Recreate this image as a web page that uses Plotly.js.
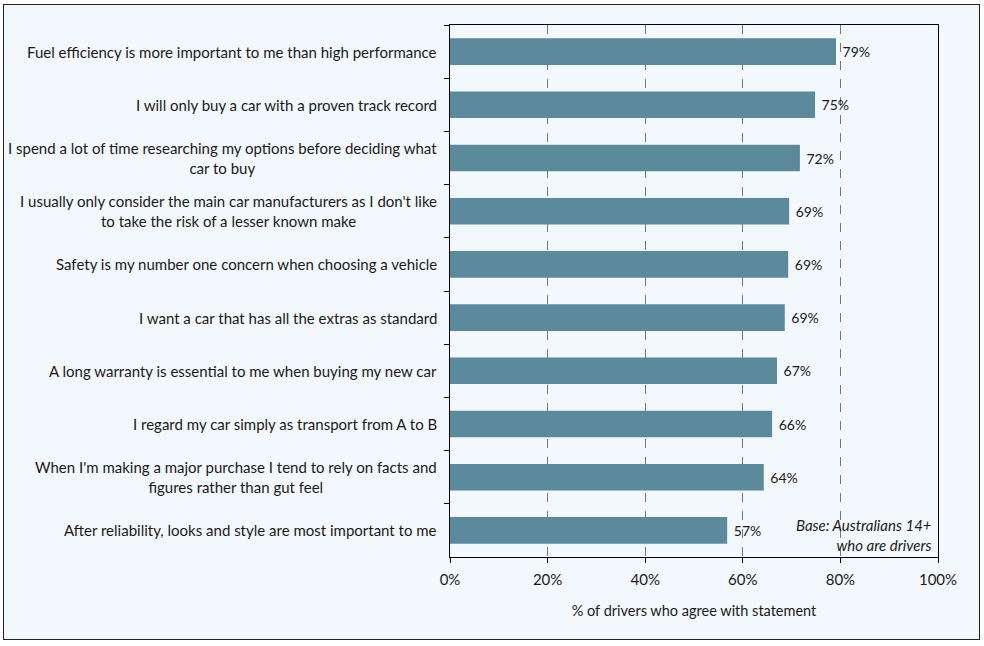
<!DOCTYPE html>
<html>
<head>
<meta charset="utf-8">
<script src="https://cdn.plot.ly/plotly-3.0.1.min.js"></script>
<style>
  body { margin: 0; background: #ffffff; }
  #frame { position: absolute; left: 3px; top: 4px; width: 975px; height: 634px; border: 1px solid #222; background: #f3f8fc; }
  #chart { width: 975px; height: 634px; }
</style>
</head>
<body>
<div id="frame"><div id="chart"></div></div>
<script>
const statements = [
  'Fuel efficiency is more important to me than high performance',
  'I will only buy a car with a proven track record',
  'I spend a lot of time researching my options before deciding what<br>car to buy',
  'I usually only consider the main car manufacturers as I don\'t like<br>to take the risk of a lesser known make',
  'Safety is my number one concern when choosing a vehicle',
  'I want a car that has all the extras as standard',
  'A long warranty is essential to me when buying my new car',
  'I regard my car simply as transport from A to B',
  'When I\'m making a major purchase I tend to rely on facts and<br>figures rather than gut feel',
  'After reliability, looks and style are most important to me'
];
const agree = [79.1, 74.8, 71.7, 69.5, 69.3, 68.6, 67.0, 66.0, 64.3, 56.8];
const agreeLabels = ['79%', '75%', '72%', '69%', '69%', '69%', '67%', '66%', '64%', '57%'];
const tickVals = [0, 20, 40, 60, 80, 100];
const tickText = ['0%', '20%', '40%', '60%', '80%', '100%'];

const font = 'Lato, "Open Sans", sans-serif';
const ink = '#1a1a1a';

const trace = {
  type: 'bar',
  orientation: 'h',
  x: agree,
  y: statements,
  text: agreeLabels,
  texttemplate: '\u00a0%{text}',
  textposition: 'outside',
  cliponaxis: false,
  textfont: {family: font, size: 14, color: ink},
  marker: {color: '#5b8a9c'},
  hoverinfo: 'x+y'
};

// category labels as annotations so that wrapped lines are centred
const labelNotes = statements.map(s => ({
  xref: 'paper', yref: 'y', x: 0, y: s,
  xanchor: 'right', yanchor: 'middle', xshift: -11,
  text: s, showarrow: false, align: 'center',
  font: {family: font, size: 15, color: ink}
}));

labelNotes.push({
  xref: 'paper', yref: 'paper', x: 1, y: 0,
  xanchor: 'right', yanchor: 'bottom', xshift: -4, yshift: 1,
  text: '<i>Base: Australians 14+<br>who are drivers</i>',
  showarrow: false, align: 'right',
  font: {family: font, size: 15, color: ink}
});

const layout = {
  width: 975,
  height: 634,
  margin: {l: 446, r: 41, t: 20, b: 82},
  paper_bgcolor: '#f3f8fc',
  plot_bgcolor: '#f3f8fc',
  bargap: 0.5,
  showlegend: false,
  xaxis: {
    range: [0, 100],
    tickvals: tickVals,
    ticktext: tickText,
    ticks: 'outside',
    ticklen: 5,
    tickcolor: '#000',
    ticklabelstandoff: 4,
    showline: true,
    linecolor: '#000',
    linewidth: 1,
    mirror: true,
    showgrid: true,
    gridcolor: '#777',
    griddash: 'dash',
    gridwidth: 1,
    zeroline: false,
    tickfont: {family: font, size: 15, color: ink},
    title: {text: '% of drivers who agree with statement', font: {family: font, size: 14.5, color: ink}, standoff: 18}
  },
  yaxis: {
    type: 'category',
    autorange: 'reversed',
    showticklabels: false,
    ticks: 'outside',
    tickson: 'boundaries',
    ticklen: 5,
    tickcolor: '#000',
    showline: true,
    linecolor: '#000',
    linewidth: 1,
    mirror: true,
    showgrid: false,
    zeroline: false
  },
  annotations: labelNotes
};

Plotly.newPlot('chart', [trace], layout, {displayModeBar: false, staticPlot: true});
</script>
</body>
</html>
